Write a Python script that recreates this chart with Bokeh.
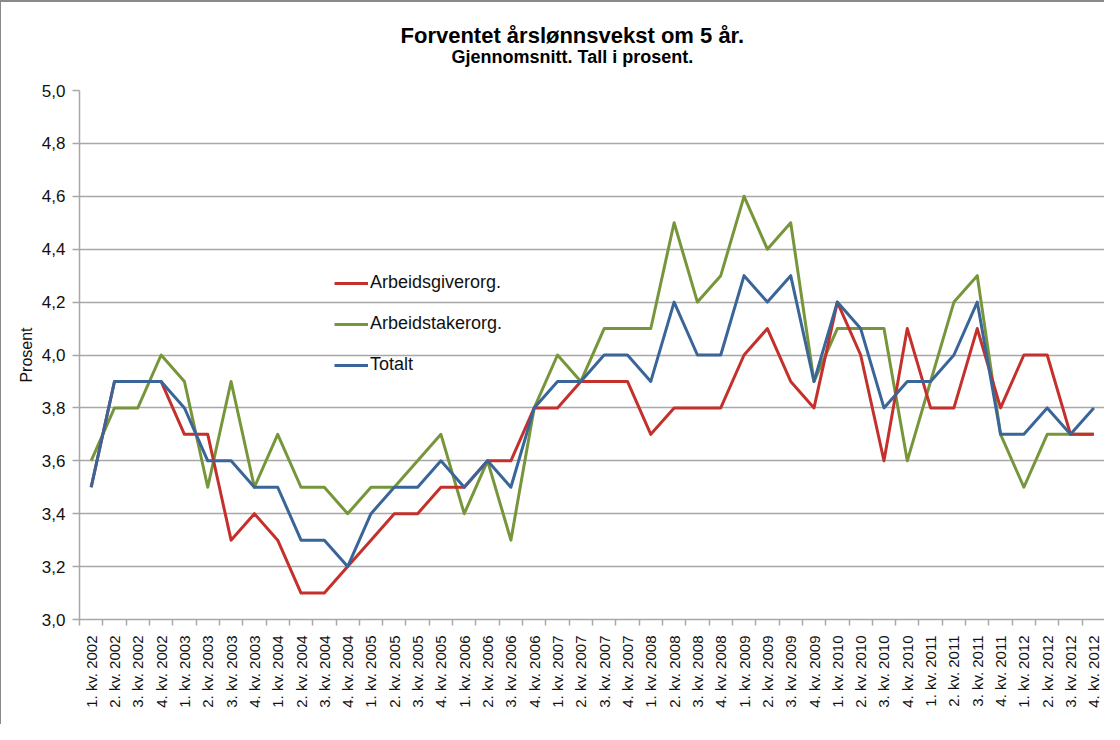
import numpy as np
from bokeh.plotting import figure
from bokeh.models import (Range1d, FixedTicker, CustomJSTickFormatter, Legend,
                          LegendItem, Title)
from bokeh.embed import file_html
from bokeh.resources import INLINE

quarters = [
    "1. kv. 2002", "2. kv. 2002", "3. kv. 2002", "4. kv. 2002",
    "1. kv. 2003", "2. kv. 2003", "3. kv. 2003", "4. kv. 2003",
    "1. kv. 2004", "2. kv. 2004", "3. kv. 2004", "4. kv. 2004",
    "1. kv. 2005", "2. kv. 2005", "3. kv. 2005", "4. kv. 2005",
    "1. kv. 2006", "2. kv. 2006", "3. kv. 2006", "4. kv. 2006",
    "1. kv. 2007", "2. kv. 2007", "3. kv. 2007", "4. kv. 2007",
    "1. kv. 2008", "2. kv. 2008", "3. kv. 2008", "4. kv. 2008",
    "1. kv. 2009", "2. kv. 2009", "3. kv. 2009", "4. kv. 2009",
    "1. kv. 2010", "2. kv. 2010", "3. kv. 2010", "4. kv. 2010",
    "1. kv. 2011", "2. kv. 2011", "3. kv. 2011", "4. kv. 2011",
    "1. kv. 2012", "2. kv. 2012", "3. kv. 2012", "4. kv. 2012",
]

arbeidsgiverorg = [
    3.5, 3.9, 3.9, 3.9, 3.7, 3.7, 3.3, 3.4, 3.3, 3.1, 3.1, 3.2,
    3.3, 3.4, 3.4, 3.5, 3.5, 3.6, 3.6, 3.8, 3.8, 3.9, 3.9, 3.9,
    3.7, 3.8, 3.8, 3.8, 4.0, 4.1, 3.9, 3.8, 4.2, 4.0, 3.6, 4.1,
    3.8, 3.8, 4.1, 3.8, 4.0, 4.0, 3.7, 3.7,
]
arbeidstakerorg = [
    3.6, 3.8, 3.8, 4.0, 3.9, 3.5, 3.9, 3.5, 3.7, 3.5, 3.5, 3.4,
    3.5, 3.5, 3.6, 3.7, 3.4, 3.6, 3.3, 3.8, 4.0, 3.9, 4.1, 4.1,
    4.1, 4.5, 4.2, 4.3, 4.6, 4.4, 4.5, 3.9, 4.1, 4.1, 4.1, 3.6,
    3.9, 4.2, 4.3, 3.7, 3.5, 3.7, 3.7, 3.7,
]
totalt = [
    3.5, 3.9, 3.9, 3.9, 3.8, 3.6, 3.6, 3.5, 3.5, 3.3, 3.3, 3.2,
    3.4, 3.5, 3.5, 3.6, 3.5, 3.6, 3.5, 3.8, 3.9, 3.9, 4.0, 4.0,
    3.9, 4.2, 4.0, 4.0, 4.3, 4.2, 4.3, 3.9, 4.2, 4.1, 3.8, 3.9,
    3.9, 4.0, 4.2, 3.7, 3.7, 3.8, 3.7, 3.8,
]

y_ticks = [3.0, 3.2, 3.4, 3.6, 3.8, 4.0, 4.2, 4.4, 4.6, 4.8, 5.0]

FONT = "Liberation Sans"
RED = "#C4312C"
GREEN = "#77963B"
BLUE = "#3A6598"
GRID = "#A8A8A8"

n = len(quarters)
xc = np.arange(n) + 0.5

p = figure(width=1104, height=724, x_range=Range1d(0, n), y_range=Range1d(3.0, 5.0),
           output_backend="svg", toolbar_location=None,
           min_border_left=78, min_border_right=0, min_border_top=88,
           min_border_bottom=107)
p.styles = {"border-top": "2px solid #8a8a8a", "border-left": "1px solid #8a8a8a"}
p.outline_line_color = None
p.background_fill_color = "white"
p.border_fill_color = "white"

# x axis
p.xaxis.ticker = FixedTicker(ticks=list(xc), minor_ticks=list(range(n + 1)))
p.xaxis.major_label_overrides = {float(v): q for v, q in zip(xc, quarters)}
p.xaxis.major_label_orientation = np.pi / 2
p.xaxis.major_tick_line_color = None
p.xaxis.major_tick_out = 0
p.xaxis.major_tick_in = 0
p.xaxis.minor_tick_line_color = GRID
p.xaxis.minor_tick_line_width = 1.5
p.xaxis.minor_tick_out = 6
p.xaxis.minor_tick_in = 0
p.xaxis.axis_line_color = GRID
p.xaxis.axis_line_width = 1.5
p.xaxis.major_label_standoff = 10
p.xaxis.major_label_text_font = FONT
p.xaxis.major_label_text_font_size = "15px"
p.xaxis.major_label_text_color = "#111111"
p.xgrid.visible = False

# y axis
p.yaxis.ticker = FixedTicker(ticks=y_ticks)
p.yaxis.formatter = CustomJSTickFormatter(code="return tick.toFixed(1).replace('.', ',');")
p.yaxis.major_tick_line_color = GRID
p.yaxis.major_tick_line_width = 1.5
p.yaxis.major_tick_out = 7
p.yaxis.major_tick_in = 0
p.yaxis.minor_tick_line_color = None
p.yaxis.axis_line_color = GRID
p.yaxis.axis_line_width = 1.5
p.yaxis.major_label_standoff = 7
p.yaxis.major_label_text_font = FONT
p.yaxis.major_label_text_font_size = "17px"
p.yaxis.major_label_text_color = "#111111"
p.yaxis.axis_label = "Prosent"
p.yaxis.axis_label_text_font = FONT
p.yaxis.axis_label_text_font_size = "16px"
p.yaxis.axis_label_text_font_style = "normal"
p.yaxis.axis_label_text_color = "#111111"
p.yaxis.axis_label_standoff = 4
p.ygrid.grid_line_color = GRID
p.ygrid.grid_line_width = 1.5

# lines (green below red, blue on top)
r_green = p.line(xc, arbeidstakerorg, line_color=GREEN, line_width=3, line_join="round")
r_red = p.line(xc, arbeidsgiverorg, line_color=RED, line_width=3, line_join="round")
r_blue = p.line(xc, totalt, line_color=BLUE, line_width=3, line_join="round")

legend = Legend(items=[
    LegendItem(label="Arbeidsgiverorg.", renderers=[r_red]),
    LegendItem(label="Arbeidstakerorg.", renderers=[r_green]),
    LegendItem(label="Totalt", renderers=[r_blue]),
], location=(255, 244), border_line_color=None, background_fill_alpha=0,
    glyph_width=34, glyph_height=20, label_height=20, spacing=20,
    padding=0, margin=0, label_standoff=2,
    label_text_font=FONT, label_text_font_size="18px", label_text_color="#111111")
p.add_layout(legend)

# blank spacer between plot area and subtitle
p.add_layout(Title(text=" ", text_font_size="1px", standoff=23), "above")

p.add_layout(Title(text="Gjennomsnitt.  Tall i prosent.", align="left", offset=372,
                   text_font=FONT, text_font_size="18px", text_font_style="bold",
                   text_color="#000000", standoff=-5), "above")
p.add_layout(Title(text="Forventet årslønnsvekst om 5 år.", align="left", offset=321,
                   text_font=FONT, text_font_size="22px", text_font_style="bold",
                   text_color="#000000", standoff=0), "above")

open("out.html", "w").write(file_html(p, INLINE))
